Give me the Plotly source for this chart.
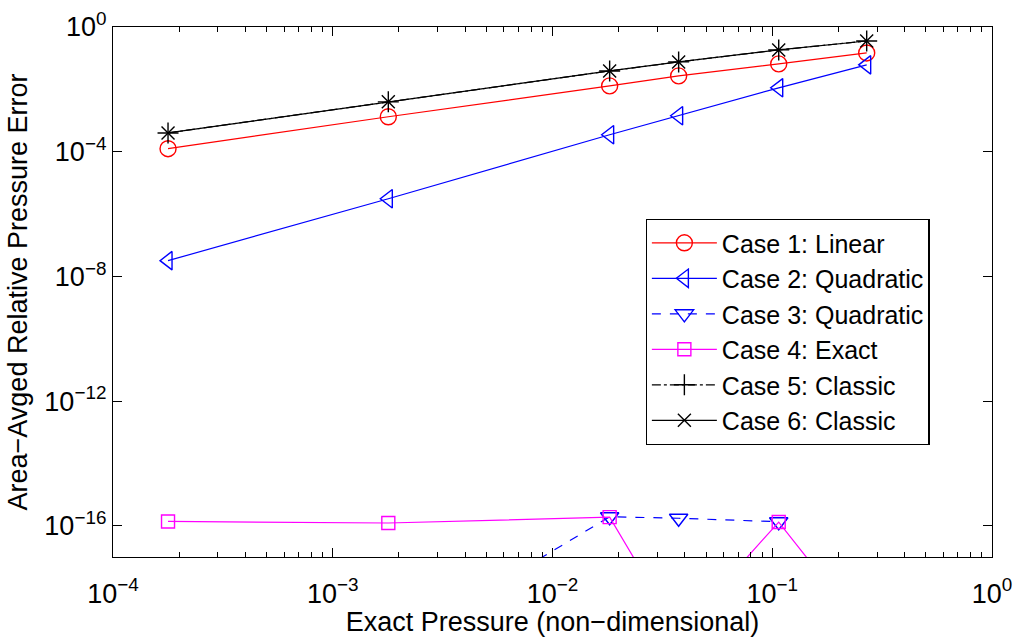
import plotly.graph_objects as go

# Exact (non-dimensional) pressure at the six sample points
pressure = [1.78e-4, 1.79e-3, 1.82e-2, 3.75e-2, 1.07e-1, 2.69e-1]

# Area-averaged relative pressure error for each case
case1_linear = [1.25e-4, 1.32e-3, 1.29e-2, 2.7e-2, 6.55e-2, 1.47e-1]
case2_quadratic = [3.2e-8, 3.1e-6, 3.5e-4, 1.42e-3, 1.12e-2, 6.1e-2]
case3_quadratic = [1.5e-20, 1.1e-20, 1.95e-16, 1.75e-16, 1.35e-16, None]
case4_exact = [1.38e-16, 1.23e-16, 1.9e-16, 3.5e-20, 1.32e-16, 3.5e-20]
case5_classic = [4.0e-4, 3.98e-3, 3.9e-2, 7.6e-2, 1.84e-1, 3.56e-1]
case6_classic = [4.0e-4, 3.98e-3, 3.9e-2, 7.6e-2, 1.84e-1, 3.56e-1]

x_ticks = [1e-4, 1e-3, 1e-2, 1e-1, 1e0]
x_ticktext = ["10<sup>\u22124</sup>", "10<sup>\u22123</sup>", "10<sup>\u22122</sup>",
              "10<sup>\u22121</sup>", "10<sup>0</sup>"]
y_ticks = [1e-16, 1e-12, 1e-8, 1e-4, 1e0]
y_ticktext = ["10<sup>\u221216</sup>", "10<sup>\u221212</sup>", "10<sup>\u22128</sup>",
              "10<sup>\u22124</sup>", "10<sup>0</sup>"]

FONT = "Liberation Sans, Arial, Helvetica, sans-serif"
TEXT_SIZE = 27

series = [
    ("Case 1: Linear", case1_linear, "#ff0000", "solid", "circle-open", 16),
    ("Case 2: Quadratic", case2_quadratic, "#0000ff", "solid", "triangle-left-open", 16),
    ("Case 3: Quadratic", case3_quadratic, "#0000ff", "dash", "triangle-down-open", 16),
    ("Case 4: Exact", case4_exact, "#ff00ff", "solid", "square-open", 13),
    ("Case 5: Classic", case5_classic, "#000000", "dashdot", "cross-thin-open", 15),
    ("Case 6: Classic", case6_classic, "#000000", "solid", "x-thin-open", 13),
]

fig = go.Figure()
for name, vals, color, dash, symbol, size in series:
    fig.add_trace(go.Scatter(
        x=pressure, y=vals, name=name, mode="lines+markers",
        line=dict(color=color, width=1.2, dash=dash),
        marker=dict(symbol=symbol, size=size, color=color,
                    line=dict(color=color, width=1.4)),
        connectgaps=False,
    ))

# minor tick positions on the log pressure axis (2..9 within each decade)
minor_x = [m * 10 ** e for e in range(-4, 0) for m in range(2, 10)]

axis_common = dict(
    showline=True, linecolor="black", linewidth=1.3, mirror="allticks",
    ticks="inside", ticklen=9, tickwidth=1.1, tickcolor="black",
    showgrid=False, zeroline=False, automargin=False,
    tickfont=dict(family=FONT, size=TEXT_SIZE, color="black"),
)

fig.update_xaxes(
    type="log", range=[-4, 0], tickmode="array", tickvals=x_ticks,
    ticktext=x_ticktext, ticklabelstandoff=12,
    title=dict(text="Exact Pressure (non\u2212dimensional)",
               font=dict(family=FONT, size=TEXT_SIZE, color="black"), standoff=12),
    minor=dict(tickmode="array", tickvals=minor_x, ticks="inside",
               ticklen=5, tickwidth=1, tickcolor="black", showgrid=False),
    **axis_common,
)
fig.update_yaxes(
    type="log", range=[-17, 0], tickmode="array", tickvals=y_ticks,
    ticktext=y_ticktext,
    title=dict(text="Area\u2212Avged Relative Pressure Error",
               font=dict(family=FONT, size=TEXT_SIZE, color="black"), standoff=8),
    **axis_common,
)

fig.update_layout(
    width=1013, height=637,
    margin=dict(l=113, r=21, t=27, b=80),
    paper_bgcolor="white", plot_bgcolor="white",
    font=dict(family=FONT, color="black"),
    legend=dict(
        x=0.606, y=0.638, xanchor="left", yanchor="top",
        bgcolor="white", bordercolor="black", borderwidth=1.2,
        font=dict(family=FONT, size=25, color="black"),
        itemwidth=65, tracegroupgap=0,
    ),
    showlegend=True,
)

fig.write_html("out.html")
